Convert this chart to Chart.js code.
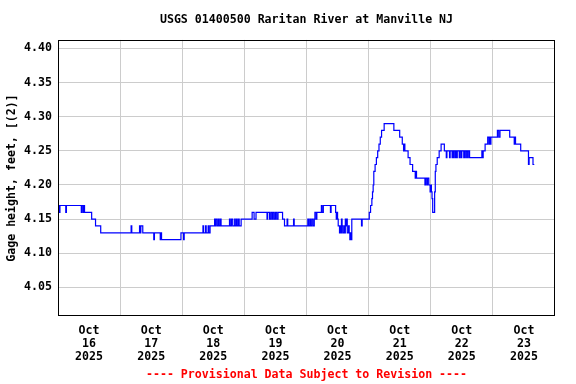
<!DOCTYPE html>
<html lang="en">
  <head>
    <meta charset="UTF-8" />
    <title>USGS 01400500 Raritan River at Manville NJ</title>
    <style>
      body { margin: 0; background: #fff; }
    </style>
  </head>
  <body>
    <canvas id="chart" width="576" height="384"></canvas>
    <script src="https://cdn.jsdelivr.net/npm/chart.js"></script>
    <script>
      // hours since Oct 16 2025 00:00, value holds until the next entry
      const hours = [
        0, 0.5, 0.75, 3, 3.25, 9, 9.25, 9.75, 10, 10.25, 13, 14.5, 16.5,
        28.25, 28.5, 31.5, 31.75, 32, 32.75, 37, 37.25, 39.5, 39.75, 40,
        47.5, 48.5, 48.75, 56, 56.25, 57, 57.25, 58, 58.25, 58.75,
        60.5, 60.75, 61, 61.5, 62, 62.25, 62.75, 63, 66.25, 66.5, 67, 67.5,
        68.25, 68.5, 69, 69.25, 69.75, 70, 70.75, 75, 75.75, 76.5,
        80.75, 81, 81.75, 82.25, 82.75, 83, 83.5, 84, 84.5, 85, 86.75, 87.5,
        88.5, 88.75, 91, 91.25, 96.5, 96.75, 97.25, 97.5, 98, 98.5, 99, 99.25,
        99.75, 100, 101.75, 102, 102.5, 105.25, 105.5,
        107.25, 107.5, 107.75, 108, 108.25, 108.75, 109, 109.25, 109.5, 109.75,
        110, 110.5, 110.75, 111, 111.25, 111.5, 111.75, 112.25, 112.5, 112.75,
        113, 113.25, 113.5, 117.25, 117.5,
        120.25, 120.75, 121.25, 121.5, 121.75, 122, 122.5, 123, 123.5, 124,
        124.5, 125, 126, 129.75, 132, 133, 133.5, 133.75, 134, 135.25, 136,
        137, 138, 138.25, 138.5, 141.75, 142, 142.5, 142.75, 143.25, 143.75,
        144, 144.25, 144.5, 144.75, 145.5, 145.75, 146, 146.5, 147.25, 148,
        149.25, 150, 150.25, 151.25, 151.5, 152.25, 152.5, 152.75, 153, 153.5,
        153.75, 154, 154.25, 155, 155.25, 155.75, 156, 156.75, 157, 157.5,
        157.75, 158.25, 158.5, 159, 163.75, 164, 164.25, 165, 166, 166.5,
        166.75, 167, 167.25, 169.75, 170.25, 170.75, 174.5, 176.25, 176.5,
        176.75, 178.75, 181.75, 182, 183.5, 184,
      ];
      const gage = [
        4.17, 4.16, 4.17, 4.16, 4.17, 4.16, 4.17, 4.16, 4.17, 4.16, 4.15, 4.14, 4.13,
        4.14, 4.13, 4.14, 4.13, 4.14, 4.13, 4.12, 4.13, 4.12, 4.13, 4.12,
        4.13, 4.12, 4.13, 4.14, 4.13, 4.14, 4.13, 4.14, 4.13, 4.14,
        4.15, 4.14, 4.15, 4.14, 4.15, 4.14, 4.15, 4.14, 4.15, 4.14, 4.15, 4.14,
        4.15, 4.14, 4.15, 4.14, 4.15, 4.14, 4.15, 4.16, 4.15, 4.16,
        4.15, 4.16, 4.15, 4.16, 4.15, 4.16, 4.15, 4.16, 4.15, 4.16, 4.15, 4.14,
        4.15, 4.14, 4.15, 4.14, 4.15, 4.14, 4.15, 4.14, 4.15, 4.14, 4.15, 4.16,
        4.15, 4.16, 4.17, 4.16, 4.17, 4.16, 4.17,
        4.16, 4.15, 4.16, 4.15, 4.14, 4.13, 4.14, 4.13, 4.15, 4.14,
        4.13, 4.14, 4.13, 4.15, 4.14, 4.15, 4.13, 4.14, 4.13, 4.12,
        4.13, 4.12, 4.15, 4.14, 4.15,
        4.16, 4.17, 4.18, 4.19, 4.2, 4.22, 4.23, 4.24, 4.25, 4.26,
        4.27, 4.28, 4.29, 4.28, 4.27, 4.26, 4.25, 4.26, 4.25, 4.24, 4.23,
        4.22, 4.21, 4.22, 4.21, 4.2, 4.21, 4.2, 4.21, 4.2, 4.19,
        4.2, 4.19, 4.18, 4.16, 4.19, 4.22, 4.23, 4.24, 4.25, 4.26,
        4.25, 4.24, 4.25, 4.24, 4.25, 4.24, 4.25, 4.24, 4.25, 4.24,
        4.25, 4.24, 4.25, 4.24, 4.25, 4.24, 4.25, 4.24, 4.25, 4.24,
        4.25, 4.24, 4.25, 4.24, 4.25, 4.24, 4.25, 4.26, 4.27, 4.26,
        4.27, 4.26, 4.27, 4.28, 4.27, 4.28, 4.27, 4.26, 4.27,
        4.26, 4.25, 4.23, 4.24, 4.23, 4.23,
      ];

      const yTicks = [4.05, 4.1, 4.15, 4.2, 4.25, 4.3, 4.35, 4.4];
      const dayGrid = [24, 48, 72, 96, 120, 144, 168];
      const dayLabelHours = [12, 36, 60, 84, 108, 132, 156, 180];
      const dayLabels = ["16", "17", "18", "19", "20", "21", "22", "23"];
      const monthLabel = "Oct";
      const yearLabel = "2025";

      const FONT = "'DejaVu Sans Mono', 'Liberation Mono', monospace";
      Chart.defaults.color = "#000";

      const frame = {
        id: "frame",
        afterDatasetsDraw(chart) {
          const { ctx, chartArea: a } = chart;
          ctx.save();
          ctx.strokeStyle = "#000";
          ctx.lineWidth = 1;
          ctx.strokeRect(Math.round(a.left) + 0.5, Math.round(a.top) + 0.5,
            Math.round(a.width) - 1, Math.round(a.height) - 1);
          ctx.restore();
        },
      };

      new Chart(document.getElementById("chart"), {
        type: "line",
        data: {
          datasets: [
            {
              data: hours.map((h, i) => ({ x: h, y: gage[i] })),
              borderColor: "#0000ff",
              borderWidth: 1.2,
              pointRadius: 0,
              stepped: true,
              fill: false,
            },
          ],
        },
        options: {
          responsive: false,
          animation: false,
          devicePixelRatio: 1,
          layout: { padding: { left: 0, right: 21, top: 0, bottom: 0 } },
          plugins: {
            legend: { display: false },
            tooltip: { enabled: false },
            title: {
              display: true,
              fullSize: false,
              text: "USGS 01400500 Raritan River at Manville NJ",
              font: { family: FONT, size: 11.6, weight: "bold" },
              padding: { top: 13, bottom: 13 },
              color: "#000",
            },
            subtitle: {
              display: true,
              fullSize: false,
              position: "bottom",
              text: "---- Provisional Data Subject to Revision ----",
              font: { family: FONT, size: 11.6, weight: "bold" },
              padding: { top: 4, bottom: 2 },
              color: "#ff0000",
            },
          },
          scales: {
            x: {
              type: "linear",
              min: 0,
              max: 192,
              afterBuildTicks: (scale) => {
                scale.ticks = [...dayGrid, ...dayLabelHours]
                  .sort((a, b) => a - b)
                  .map((v) => ({ value: v }));
              },
              afterFit: (scale) => {
                scale.height = 48;
              },
              border: { display: false },
              grid: {
                drawTicks: false,
                color: (ctx) =>
                  ctx.tick && dayGrid.includes(ctx.tick.value) ? "#cccccc" : "rgba(0,0,0,0)",
              },
              ticks: {
                autoSkip: false,
                maxRotation: 0,
                padding: 8,
                font: { family: FONT, size: 11.6, weight: "bold", lineHeight: 1.15 },
                callback: (value) => {
                  const i = dayLabelHours.indexOf(value);
                  return i < 0 ? "" : [monthLabel, dayLabels[i], yearLabel];
                },
              },
            },
            y: {
              min: 4.008,
              max: 4.4125,
              afterBuildTicks: (scale) => {
                scale.ticks = yTicks.map((v) => ({ value: v }));
              },
              afterFit: (scale) => {
                scale.width = 58;
              },
              border: { display: false },
              grid: { drawTicks: false, color: "#cccccc" },
              ticks: {
                padding: 6,
                font: { family: FONT, size: 11.6, weight: "bold" },
                callback: (value) => value.toFixed(2),
              },
              title: {
                display: true,
                text: "Gage height, feet, [(2)]",
                font: { family: FONT, size: 11.6, weight: "bold" },
                padding: { top: 5, bottom: 0 },
              },
            },
          },
        },
        plugins: [frame],
      });
    </script>
  </body>
</html>
